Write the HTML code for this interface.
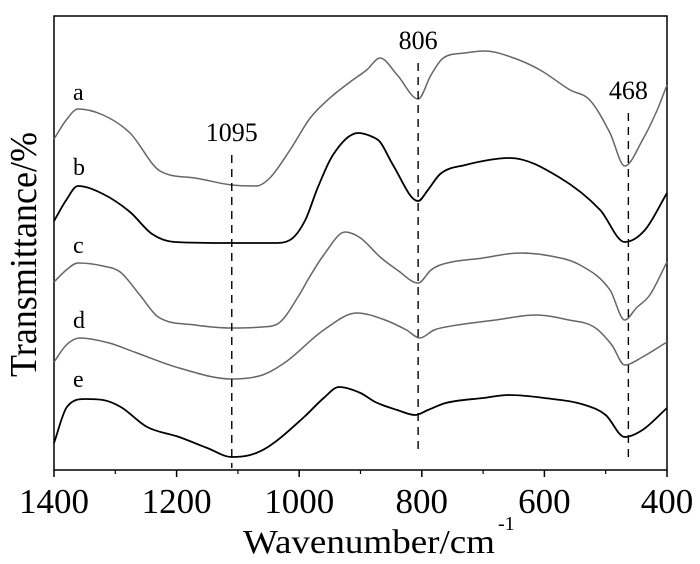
<!DOCTYPE html>
<html><head><meta charset="utf-8"><style>
html,body{margin:0;padding:0;background:#fff;}
svg{display:block;font-family:"Liberation Serif",serif;}
</style></head><body>
<svg id="chart" width="700" height="564" viewBox="0 0 700 564" xmlns="http://www.w3.org/2000/svg">
<rect x="54" y="16" width="613" height="454" fill="none" stroke="#000" stroke-width="1.5"/>
<g id="ticks"></g><g id="curves"></g><g id="markers"></g>
<text x="243" y="553" font-size="34" textLength="252" lengthAdjust="spacingAndGlyphs">Wavenumber/cm</text>
<text x="498" y="530" font-size="20">-1</text>
<text transform="translate(36,377) rotate(-90)" font-size="38" textLength="245" lengthAdjust="spacingAndGlyphs">Transmittance/%</text>
</svg>
<script>
const xTicks=[1400,1200,1000,800,600,400];
const xMinor=[1300,1100,900,700,500];
const seriesNames=['a','b','c','d','e'];
const wA=[1400,1380,1361,1320,1276,1227,1170,1110,1070,1048,1015,982,950,917,890,868,840,806,785,765,730,697,650,607,558,526,493,469,440,416,400];
const vA=[331,350,361,355,337,299,292,285,284,292,320,352,372,388,400,412,395,371,395,412,417,419,412,400,380,370,337,304,330,360,385];
const wB=[1400,1380,1361,1320,1276,1240,1203,1110,1040,1015,990,970,945,904,880,868,847,806,790,770,729,656,574,509,469,436,400];
const vB=[249,270,284,276,258,236,228,227,227,230,250,282,315,337,333,328,305,269,280,296,305,312,292,260,228,240,277];
const wC=[1400,1380,1361,1320,1292,1260,1230,1170,1110,1060,1033,1000,986,960,925,900,868,840,806,785,770,700,640,590,542,493,469,450,428,400];
const vC=[188,200,207,204,198,175,153,145,142,143,147,175,190,215,238,232,213,200,187,200,205,212,217,214,205,180,150,162,175,208];
const wD=[1400,1380,1358,1310,1269,1196,1110,1060,1022,960,906,860,825,803,780,761,680,614,560,519,490,469,440,400];
const vD=[108,125,132,127,118,102,91,95,108,140,157,150,140,132,140,143,150,155,150,143,125,105,113,128];
const wE=[1400,1379,1349,1320,1291,1248,1196,1150,1110,1080,1051,992,960,935,900,876,840,811,790,761,700,658,600,534,500,469,440,400];
const vE=[27,63,71,70,63,43,33,22,13,15,23,53,72,83,77,68,60,55,60,67,72,75,72,65,55,33,40,62];
const peaks=[1095,806,468];
const peakPos=[1110,806,463];
const peakTop=[155,63,113];
const peakBottom=[468,450,458];
const labelY=[100,175,253,328,387];

const NS='http://www.w3.org/2000/svg';
const X=w=>54+(1400-w)*613/1000;
const Y=v=>470-v;
function mk(tag,attrs,parent){const e=document.createElementNS(NS,tag);for(const k in attrs)e.setAttribute(k,attrs[k]);parent.appendChild(e);return e;}
const tg=document.getElementById('ticks');
xTicks.forEach(t=>{
  const l=mk('line',{x1:X(t),x2:X(t),y1:470,y2:477,stroke:'#000','stroke-width':1.5},tg);
  
  
  const tx=mk('text',{x:X(t),y:513,'font-size':35,'text-anchor':'middle'},tg);
  tx.textContent=t;
  
  
});
xMinor.forEach(t=>{
  const l=mk('line',{x1:X(t),x2:X(t),y1:470,y2:474,stroke:'#000','stroke-width':1.2},tg);
  
  
});
// monotone cubic (Fritsch-Carlson) in x
function path(ws,vs){
  const p=ws.map((w,i)=>[X(w),Y(vs[i])]);
  const n=p.length,dx=[],s=[],m=[];
  for(let i=0;i<n-1;i++){dx[i]=p[i+1][0]-p[i][0];s[i]=(p[i+1][1]-p[i][1])/dx[i];}
  m[0]=s[0];m[n-1]=s[n-2];
  for(let i=1;i<n-1;i++){m[i]=(s[i-1]*s[i]<=0)?0:(s[i-1]+s[i])/2;}
  for(let i=0;i<n-1;i++){
    if(s[i]===0){m[i]=0;m[i+1]=0;continue;}
    const a=m[i]/s[i],b=m[i+1]/s[i],h=a*a+b*b;
    if(h>9){const t=3/Math.sqrt(h);m[i]=t*a*s[i];m[i+1]=t*b*s[i];}
  }
  let d='M'+p[0][0]+','+p[0][1];
  for(let i=0;i<n-1;i++){
    const h=dx[i]/3;
    d+=' C'+(p[i][0]+h)+','+(p[i][1]+m[i]*h)+' '+(p[i+1][0]-h)+','+(p[i+1][1]-m[i+1]*h)+' '+p[i+1][0]+','+p[i+1][1];
  }
  return d;
}
const cg=document.getElementById('curves');
const all=[[wA,vA,'#666'],[wB,vB,'#000'],[wC,vC,'#666'],[wD,vD,'#666'],[wE,vE,'#000']];
all.forEach((s,i)=>{
  const p=mk('path',{d:path(s[0],s[1]),fill:'none',stroke:s[2],'stroke-width':s[2]=='#000'?1.8:1.5},cg);
  
  
  const t=mk('text',{x:73,y:labelY[i],'font-size':24},cg);
  t.textContent=seriesNames[i];
  
  
});
const mg=document.getElementById('markers');
peaks.forEach((pk,i)=>{
  const l=mk('line',{x1:X(peakPos[i]),x2:X(peakPos[i]),y1:peakTop[i],y2:peakBottom[i],stroke:'#000','stroke-width':1.4,'stroke-dasharray':'8,6'},mg);
  
  
  const t=mk('text',{x:X(peakPos[i]),y:peakTop[i]-14,'font-size':26,'text-anchor':'middle'},mg);
  t.textContent=pk;
  
  
});
</script>
</body></html>
